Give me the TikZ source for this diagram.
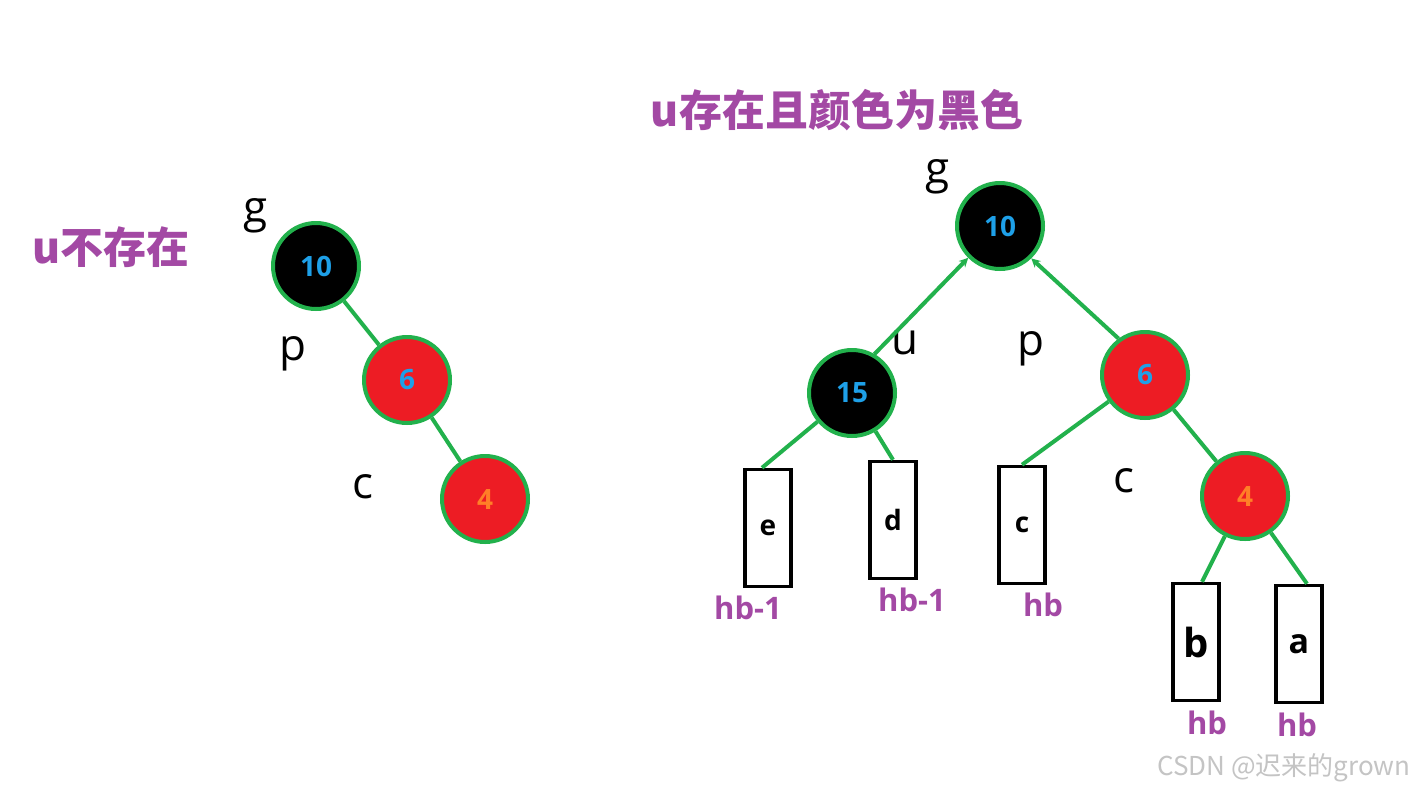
\documentclass[tikz,border=0pt]{standalone}
\usepackage{fontspec}
\setmainfont{Open Sans}
\newfontfamily\cjk{Noto Sans CJK SC}
\usetikzlibrary{arrows.meta}
\definecolor{rbred}{HTML}{ED1C24}
\definecolor{rbgreen}{HTML}{22B14C}
\definecolor{numblue}{HTML}{1EA0E8}
\definecolor{numorange}{HTML}{FF7F27}
\definecolor{rbpurple}{HTML}{A349A4}
\definecolor{wmgray}{HTML}{C4C4C4}
\begin{document}
\begin{tikzpicture}[x=1pt,y=-1pt,
  rbnode/.style={circle,draw=rbgreen,line width=4pt,minimum size=86pt,inner sep=0pt,font=\bfseries\fontsize{28}{28}\selectfont},
  blk/.style={rbnode,fill=black,text=numblue},
  rd/.style={rbnode,fill=rbred,text=numblue},
  rdo/.style={rbnode,fill=rbred,text=numorange},
  lbl/.style={inner sep=0pt,text=black,font=\fontsize{44}{44}\selectfont},
  edge/.style={draw=rbgreen,line width=4pt},
  arrowedge/.style={edge,-{Stealth[length=9pt,width=9pt]}},
  sub/.style={rectangle,draw=black,line width=3.5pt,minimum width=46pt,minimum height=117pt,inner sep=0pt,font=\bfseries\fontsize{28}{28}\selectfont},
  hb/.style={inner sep=0pt,text=rbpurple,font=\bfseries\fontsize{31}{31}\selectfont},
  title/.style={inner sep=0pt,text=rbpurple,font=\cjk\bfseries\fontsize{43}{43}\selectfont}]
\useasboundingbox[fill=white] (0,0) rectangle (1416,793);

% ---------- left: u does not exist ----------
\node[title] (t1) at (111,247) {u不存在};
\node[lbl] (lg1) at (256,216) {g};
\node[blk] (g1) at (316,266) {10};
\node[lbl] (lp1) at (293,354) {p};
\node[rd] (p1) at (407,380) {6};
\node[lbl] (lc1) at (363,487) {c};
\node[rdo] (c1) at (485,499) {4};
\draw[edge] (g1) -- (p1);
\draw[edge] (p1) -- (c1);

% ---------- right: u exists and is black ----------
\node[title] (t2) at (837,110) {u存在且颜色为黑色};
\node[lbl] (lg2) at (938,177) {g};
\node[blk] (g2) at (1000,226) {10};
\node[lbl] (lu2) at (905,343) {u};
\node[blk] (u2) at (852,393) {15};
\node[lbl] (lp2) at (1031,349) {p};
\node[rd] (p2) at (1145,375) {6};
\node[lbl] (lc2) at (1124,481) {c};
\node[rdo] (c2) at (1245,496) {4};

\node[sub] (e) at (768,528) {e};
\node[sub] (d) at (893,520) {d};
\node[sub] (cc) at (1022,525) {c};
\node[sub,font=\bfseries\fontsize{40}{40}\selectfont] (b) at (1196,642) {b};
\node[sub,font=\bfseries\fontsize{34}{34}\selectfont] (a) at (1299,644) {a};

\node[hb] (he) at (748,608) {hb-1};
\node[hb] (hd) at (912,600) {hb-1};
\node[hb] (hc) at (1043,605) {hb};
\node[hb] (hbb) at (1207,723) {hb};
\node[hb] (ha) at (1297,725) {hb};

\draw[arrowedge] (u2.60) -- (g2.225);
\draw[arrowedge] (p2.126) -- (g2.-46);
\draw[edge] (p2) -- (c2);
\draw[edge] (u2) -- ([xshift=-6pt]e.north);
\draw[edge] (u2) -- (d.north);
\draw[edge] (p2) -- (cc.north);
\draw[edge] (c2) -- ([xshift=6pt]b.north);
\draw[edge] (c2) -- ([xshift=8pt]a.north);

\node[inner sep=0pt,text=wmgray,font=\cjk\fontsize{26}{26}\selectfont] (wm) at (1284,768) {CSDN @迟来的grown};
\end{tikzpicture}
\end{document}
